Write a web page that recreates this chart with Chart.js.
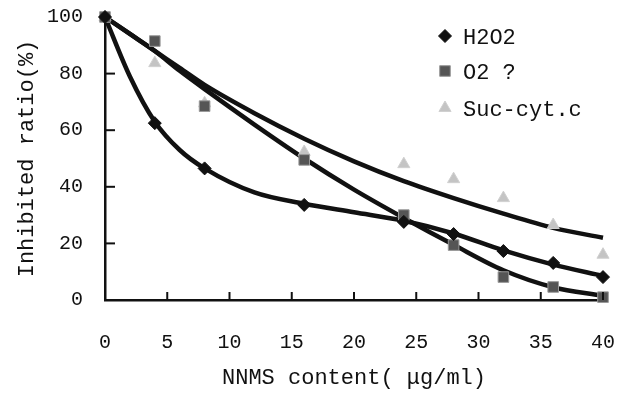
<!DOCTYPE html>
<html>
<head>
<meta charset="utf-8">
<script src="https://cdn.jsdelivr.net/npm/chart.js@4"></script>
<style>
  html, body { margin: 0; padding: 0; background: #fff; }
  #wrap { width: 618px; height: 393px; }
</style>
</head>
<body>
<div id="wrap"><canvas id="chart"></canvas></div>
<script>
// measured points
const conc = [0, 4, 8, 16, 24, 28, 32, 36, 40];
const h2o2 = [100, 62.5, 46.5, 33.6, 27.6, 23.3, 17.3, 13.1, 8.1];
const o2 = [100, 91.5, 68.5, 49.5, 30, 19.4, 8.1, 4.6, 1];
const suc = [100, 83.7, 69.5, 52.3, 48, 42.7, 36, 26.5, 16];

// fitted trend curves
const fitX = [0, 2, 4, 6, 8, 12, 16, 20, 24, 28, 32, 36, 40];
const h2o2Fit = [100, 79, 63, 53, 46.5, 38, 34, 31, 28, 23.5, 17.5, 12.5, 8.5];
const o2Fit = [100, 94, 88, 81, 74.5, 62, 50, 39, 29, 19.5, 10.5, 4.5, 1.5];
const sucFit = [100, 94, 88, 82, 76, 66, 57, 49, 42, 36, 30.5, 25.5, 22];

const yTicks = [0, 20, 40, 60, 80, 100];
const xTicks = [0, 5, 10, 15, 20, 25, 30, 35, 40];

const legendNames = ['H2O2', 'O2 ?', 'Suc-cyt.c'];

const FONT = 'Liberation Mono';

function pts(xs, ys) {
    return xs.map((x, i) => ({ x: x, y: ys[i] }));
}

function fitLine(ys) {
    return {
        type: 'line',
        data: pts(fitX, ys),
        borderColor: '#111',
        borderWidth: 4.5,
        pointRadius: 0,
        tension: 0.4,
        cubicInterpolationMode: 'monotone',
        fill: false,
        clip: false,
        order: 2
    };
}

const markerStyles = [
    { pointStyle: 'rectRot', radius: 6.5, bg: '#111', border: '#111' },
    { pointStyle: 'rect', radius: 7.5, bg: '#555', border: '#999' },
    { pointStyle: 'triangle', radius: 7, bg: '#c4c4c4', border: '#d0d0d0' }
];

function markers(ys, i) {
    const s = markerStyles[i];
    return {
        type: 'scatter',
        label: legendNames[i],
        data: pts(conc, ys),
        showLine: false,
        pointStyle: s.pointStyle,
        pointRadius: s.radius,
        pointBackgroundColor: s.bg,
        pointBorderColor: s.border,
        pointBorderWidth: 1,
        clip: false,
        order: 1
    };
}

// drop the label overhang padding so the plot area sits where the original does
function noPad(scale) {
    scale.paddingLeft = 0;
    scale.paddingRight = 0;
    scale.paddingTop = 0;
    scale.paddingBottom = 0;
}

const bgPlugin = {
    id: 'bg',
    beforeDraw(chart) {
        const ctx = chart.ctx;
        ctx.save();
        ctx.fillStyle = '#fff';
        ctx.fillRect(0, 0, chart.width, chart.height);
        ctx.restore();
    }
};

// inward ticks + legend box drawn on the plot
const extras = {
    id: 'extras',
    afterDraw(chart) {
        const ctx = chart.ctx;
        const xs = chart.scales.x, ys = chart.scales.y;
        ctx.save();
        ctx.strokeStyle = '#111';
        ctx.lineWidth = 2;
        yTicks.slice(1, -1).forEach(v => {
            const py = ys.getPixelForValue(v);
            ctx.beginPath();
            ctx.moveTo(xs.left, py);
            ctx.lineTo(xs.left + 10, py);
            ctx.stroke();
        });
        xTicks.slice(1).forEach(v => {
            const px = xs.getPixelForValue(v);
            ctx.beginPath();
            ctx.moveTo(px, ys.bottom);
            ctx.lineTo(px, ys.bottom - 8);
            ctx.stroke();
        });

        // legend
        const lx = 445, ly = [36, 71, 108];
        ctx.font = '22px "' + FONT + '"';
        ctx.textBaseline = 'middle';
        ctx.fillStyle = '#111';
        markerStyles.forEach((s, i) => {
            ctx.save();
            ctx.fillStyle = s.bg;
            ctx.strokeStyle = s.border;
            ctx.lineWidth = 1;
            Chart.helpers.drawPoint(ctx, { pointStyle: s.pointStyle, radius: s.radius, borderWidth: 1 }, lx, ly[i]);
            ctx.restore();
            ctx.fillText(legendNames[i], 463, ly[i] + 2);
        });
        ctx.restore();
    }
};

const ctx = document.getElementById('chart').getContext('2d');
const chart = new Chart(ctx, {
    data: {
        datasets: [
            markers(h2o2, 0),
            markers(o2, 1),
            markers(suc, 2),
            fitLine(h2o2Fit),
            fitLine(o2Fit),
            fitLine(sucFit)
        ]
    },
    options: {
        responsive: true,
        maintainAspectRatio: false,
        animation: false,
        layout: { padding: { top: 17, right: 15, left: 0, bottom: 0 } },
        plugins: {
            legend: { display: false },
            tooltip: { enabled: false }
        },
        scales: {
            x: {
                type: 'linear',
                min: 0,
                max: 40,
                afterFit(scale) { scale.height = 93; noPad(scale); },
                afterBuildTicks(scale) { scale.ticks = xTicks.map(v => ({ value: v })); },
                grid: { display: false, drawTicks: false },
                border: { display: true, color: '#111', width: 2.5 },
                ticks: {
                    color: '#111',
                    padding: 31,
                    maxRotation: 0,
                    autoSkip: false,
                    font: { family: FONT, size: 20 }
                },
                title: {
                    display: true,
                    text: 'NNMS content( μg/ml)',
                    color: '#111',
                    padding: { top: 0, bottom: 2 },
                    font: { family: FONT, size: 22 }
                }
            },
            y: {
                min: 0,
                max: 100,
                afterFit(scale) { scale.width = 105; noPad(scale); },
                afterBuildTicks(scale) { scale.ticks = yTicks.map(v => ({ value: v })); },
                grid: { display: false, drawTicks: false },
                border: { display: true, color: '#111', width: 2.5 },
                ticks: {
                    color: '#111',
                    padding: 22,
                    font: { family: FONT, size: 20 }
                },
                title: {
                    display: true,
                    text: 'Inhibited ratio(%)',
                    color: '#111',
                    padding: { top: 14, bottom: 0 },
                    font: { family: FONT, size: 22 }
                }
            }
        }
    },
    plugins: [bgPlugin, extras]
});
</script>
</body>
</html>
